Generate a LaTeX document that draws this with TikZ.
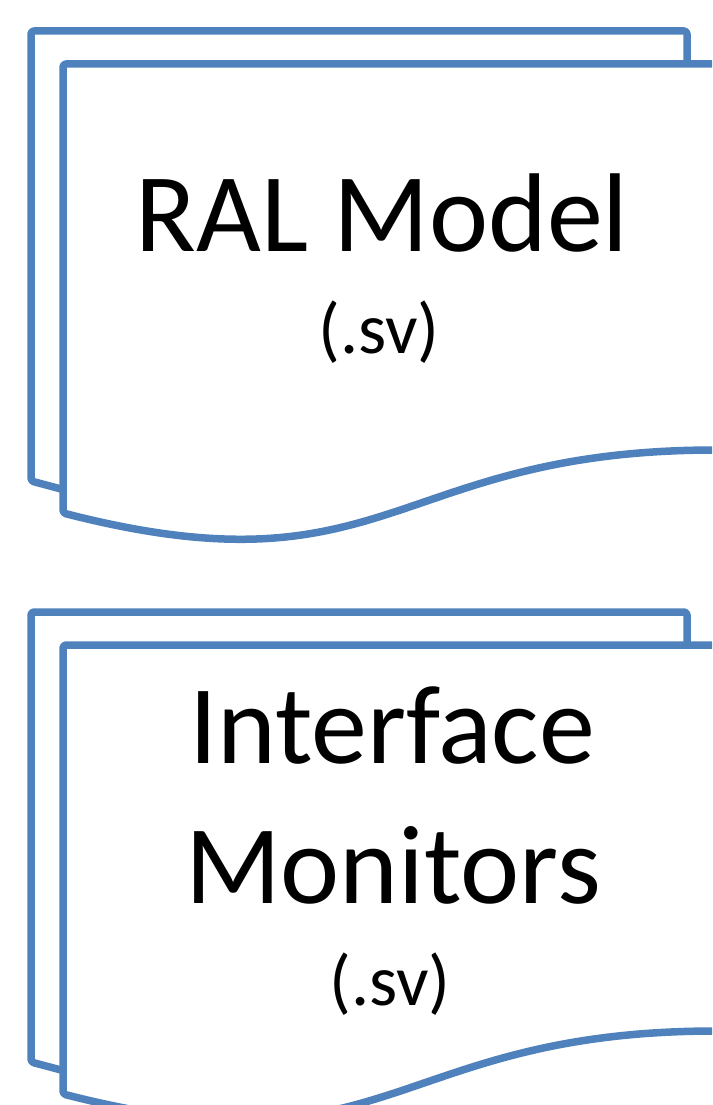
\documentclass[tikz,border=0pt]{standalone}
\usepackage{fontspec}
\setmainfont{Carlito}
\usepackage{tikz}
\usetikzlibrary{positioning}
\definecolor{docblue}{RGB}{79,129,189}
\tikzset{sheet/.style = {draw=docblue, line width=7.5pt, rounded corners=3pt,
                         line join=round},
         bigtext/.style = {anchor=base, inner sep=0pt,
                           font=\fontsize{112}{136}\selectfont},
         exttext/.style = {anchor=base, inner sep=0pt,
                           font=\fontsize{72}{86}\selectfont}}

\begin{document}
\begin{tikzpicture}[x=1pt, y=-1pt]
    \useasboundingbox (0, 0) rectangle (712, 1105);
    \clip (0, 0) rectangle (712, 1105);

    % two stacked sheets per file
    \foreach \dy in {0, 581} {
      \begin{scope}[yshift=-\dy pt]
        \draw [sheet] (687, 64) -- (687, 31) -- (31, 31) -- (31, 481) -- (63, 489.5);
        \draw [sheet, fill=white] (63, 64) -- (719, 64) -- (719, 450)
              .. controls (391, 450) and (391, 597) .. (63, 513) -- cycle;
      \end{scope}
    }

    \node (ral) [bigtext] at (382, 251) {RAL Model};
    \node (ralext) [exttext] at (379, 353) {(.sv)};
    \node (intf) [bigtext] at (392, 763) {Interface};
    \node (mon) [bigtext] at (393, 903) {Monitors};
    \node (monext) [exttext] at (390, 1005) {(.sv)};
\end{tikzpicture}
\end{document}
